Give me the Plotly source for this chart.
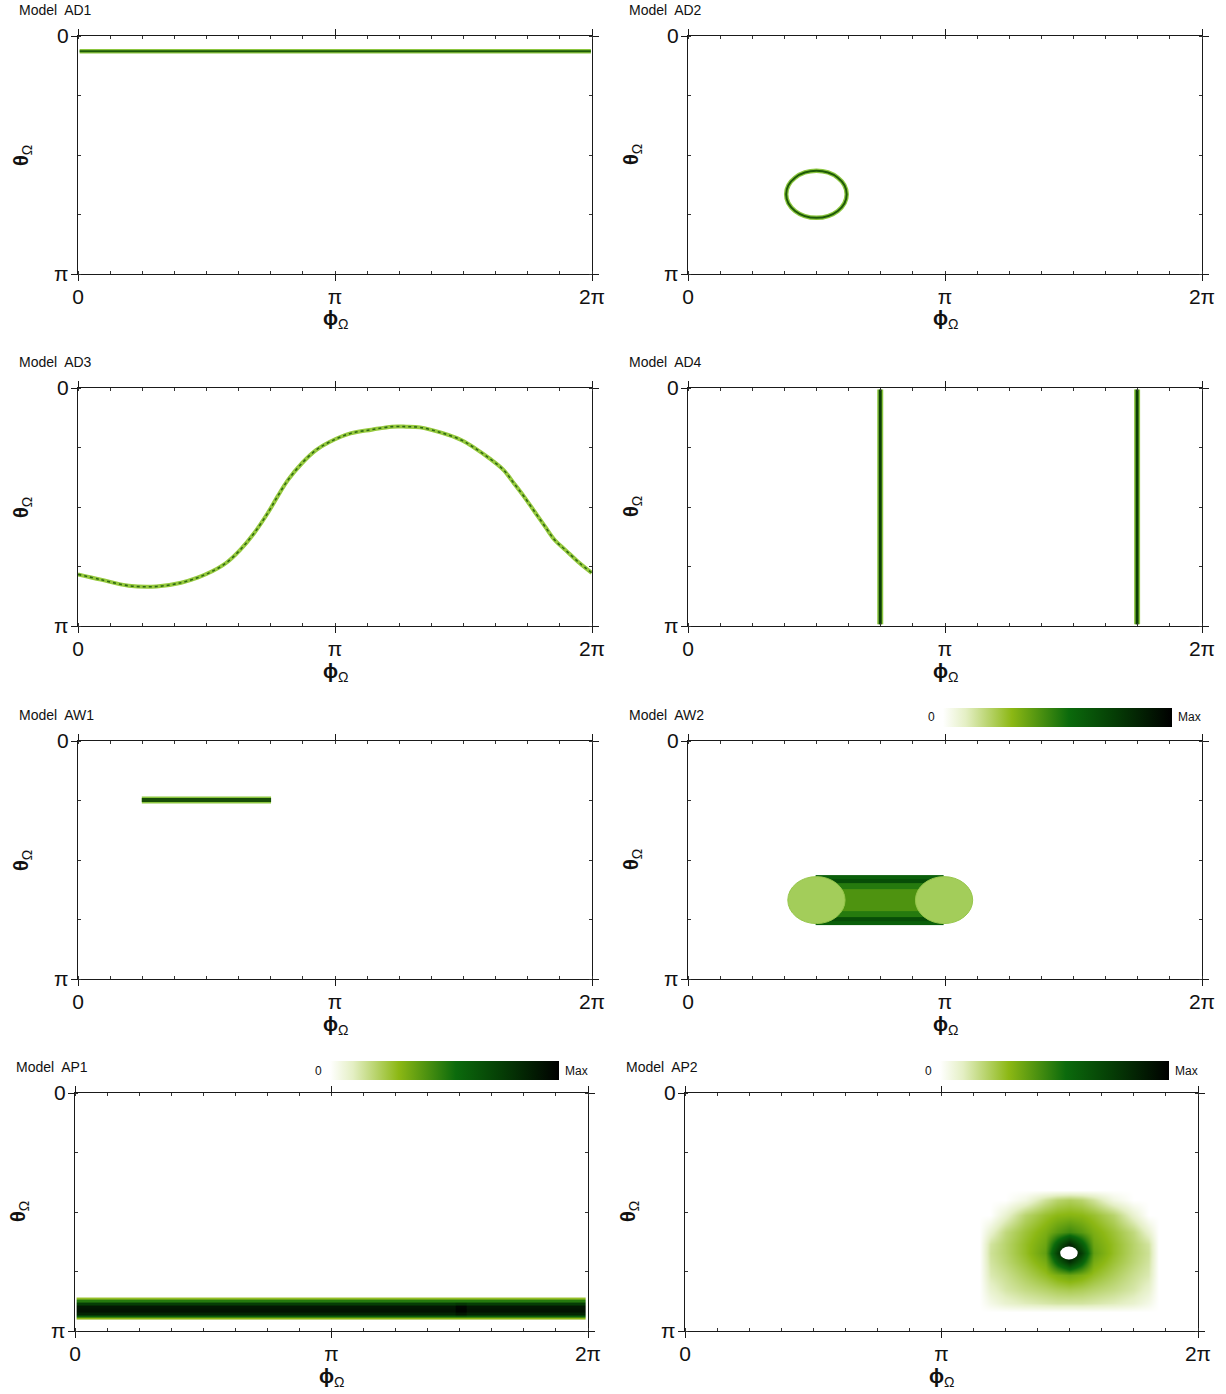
import numpy as np
import plotly.graph_objects as go

PI = np.pi
W, H = 1226, 1394

# ---------------- data ----------------
titles = ["Model  AD1", "Model  AD2", "Model  AD3", "Model  AD4",
          "Model  AW1", "Model  AW2", "Model  AP1", "Model  AP2"]
x_tickvals = [0, PI, 2 * PI]
x_ticktext = ["0", "π", "2π"]
y_tickvals = [0, PI]
y_ticktext = ["0", "π"]

# AD1: horizontal line
ad1_phi = [0.02, 6.27]
ad1_theta = [0.20, 0.20]

# AD2: ring (bounding box)
ad2_phi = [1.20, 1.94]
ad2_theta = [1.78, 2.40]

# AD3: curve
ad3_phi = [0.0, 0.28, 0.62, 0.96, 1.26, 1.47, 1.64, 1.81, 1.98, 2.15, 2.32, 2.44,
           2.57, 2.74, 2.91, 3.08, 3.33, 3.59, 3.84, 4.01, 4.18, 4.44, 4.69, 4.86,
           5.03, 5.20, 5.33, 5.45, 5.58, 5.71, 5.83, 5.96, 6.13, 6.28]
ad3_theta = [2.46, 2.53, 2.61, 2.62, 2.57, 2.50, 2.42, 2.31, 2.14, 1.92, 1.65, 1.43,
             1.21, 0.99, 0.82, 0.71, 0.60, 0.55, 0.51, 0.51, 0.52, 0.59, 0.69, 0.80,
             0.93, 1.08, 1.26, 1.43, 1.63, 1.83, 2.01, 2.14, 2.31, 2.44]

# AD4: vertical lines
ad4_phi = [2.35, 5.49]
ad4_theta = [0.02, 3.12]

# AW1: short horizontal segment
aw1_phi = [0.78, 2.36]
aw1_theta = [0.78, 0.78]

# AW2: capsule body (profile across theta) and end caps
aw2_body_phi = [1.56, 3.13]
aw2_body_theta = [1.77, 1.82, 1.87, 1.95, 2.25, 2.33, 2.38, 2.43]
aw2_body_z = [0.60, 0.68, 0.50, 0.42, 0.50, 0.68, 0.60]
aw2_capL_phi = [1.22, 1.92]
aw2_capR_phi = [2.78, 3.48]
aw2_cap_theta = [1.79, 2.41]

# AP1: band profile
ap1_phi = [0.02, 4.66, 4.80, 6.26]
ap1_theta = [2.70, 2.73, 2.76, 2.80, 2.85, 2.90, 2.94, 2.96, 2.99]
ap1_z = [[0.28, 0.28, 0.28],
         [0.50, 0.50, 0.50],
         [0.75, 0.78, 0.75],
         [0.90, 0.97, 0.90],
         [0.92, 0.98, 0.92],
         [0.85, 0.90, 0.85],
         [0.60, 0.62, 0.60],
         [0.30, 0.30, 0.30]]

# AP2: blob intensity grid
ap2_phi = [3.60, 3.736, 3.919, 4.164, 4.409, 4.556, 4.703, 4.850, 4.997, 5.242, 5.487,
           5.671, 5.80]
ap2_theta = [1.280, 1.412, 1.610, 1.835, 1.993, 2.112, 2.231, 2.402, 2.600, 2.772, 2.891]
ap2_z = [
    [0, 0, 0, 0, 0, 0, 0, 0, 0, 0, 0, 0, 0],
    [0, 0, 0, 0.05, 0.15, 0.20, 0.22, 0.20, 0.15, 0.05, 0, 0, 0],
    [0, 0, 0.08, 0.20, 0.27, 0.30, 0.31, 0.30, 0.27, 0.20, 0.08, 0, 0],
    [0, 0.08, 0.18, 0.26, 0.33, 0.40, 0.45, 0.40, 0.33, 0.26, 0.18, 0.08, 0],
    [0, 0.14, 0.20, 0.28, 0.36, 0.62, 0.85, 0.62, 0.36, 0.28, 0.20, 0.14, 0],
    [0, 0.15, 0.20, 0.28, 0.38, 0.75, 0.98, 0.75, 0.38, 0.28, 0.20, 0.15, 0],
    [0, 0.14, 0.19, 0.26, 0.34, 0.60, 0.80, 0.60, 0.34, 0.26, 0.19, 0.14, 0],
    [0, 0.12, 0.16, 0.22, 0.28, 0.33, 0.36, 0.33, 0.28, 0.22, 0.16, 0.12, 0],
    [0, 0.08, 0.13, 0.17, 0.20, 0.22, 0.23, 0.22, 0.20, 0.17, 0.13, 0.08, 0],
    [0, 0.04, 0.08, 0.11, 0.13, 0.14, 0.14, 0.14, 0.13, 0.11, 0.08, 0.04, 0],
    [0, 0, 0, 0, 0, 0, 0, 0, 0, 0, 0, 0, 0],
]
ap2_hole_phi = [4.595, 4.810]
ap2_hole_theta = [2.026, 2.198]

# ---------------- style ----------------
LIGHT = "#8cc63f"
DARK = "#1d5a07"
CSCALE = [[0.0, "#ffffff"], [0.1, "#e4efc4"], [0.3, "#8cb814"],
          [0.55, "#0b6a0c"], [0.75, "#053d05"], [1.0, "#000000"]]
FONT = "Liberation Sans, Arial, sans-serif"

# panel pixel boxes: (left, top, right, bottom)
boxes = [
    (78, 36, 592, 274), (688, 36, 1202, 274),
    (78, 388, 592, 626), (688, 388, 1202, 626),
    (78, 741, 592, 979), (688, 741, 1202, 979),
    (75, 1093, 588, 1331), (685, 1093, 1198, 1331),
]

fig = go.Figure()

def ax_names(i):
    return ("x" if i == 0 else f"x{i+1}", "y" if i == 0 else f"y{i+1}")

def line(i, xs, ys, color, width, dash="solid", shape="linear"):
    xa, ya = ax_names(i)
    fig.add_trace(go.Scatter(x=xs, y=ys, mode="lines", xaxis=xa, yaxis=ya,
                             line=dict(color=color, width=width, dash=dash, shape=shape),
                             hoverinfo="skip", showlegend=False))

# AD1
line(0, ad1_phi, ad1_theta, LIGHT, 4.5)
line(0, ad1_phi, ad1_theta, DARK, 2)
# AD3
line(2, ad3_phi, ad3_theta, "#96c93e", 4, shape="spline")
line(2, ad3_phi, ad3_theta, "#2f6a12", 1.6, "dot", shape="spline")
# AD4
for p in ad4_phi:
    line(3, [p, p], ad4_theta, LIGHT, 6)
    line(3, [p, p], ad4_theta, "#0b3d05", 3)
# AW1
line(4, aw1_phi, aw1_theta, LIGHT, 7)
line(4, aw1_phi, aw1_theta, "#174d06", 4)

# AW2 body heatmap
fig.add_trace(go.Heatmap(x=aw2_body_phi, y=aw2_body_theta,
                         z=[[v] for v in aw2_body_z], coloraxis="coloraxis",
                         xaxis="x6", yaxis="y6", hoverinfo="skip"))
# AP1 band heatmap
fig.add_trace(go.Heatmap(x=ap1_phi, y=ap1_theta, z=ap1_z, coloraxis="coloraxis2",
                         xaxis="x7", yaxis="y7", hoverinfo="skip"))
# AP2 blob heatmap
fig.add_trace(go.Heatmap(x=ap2_phi, y=ap2_theta, z=ap2_z, coloraxis="coloraxis3",
                         zsmooth="best", xaxis="x8", yaxis="y8", hoverinfo="skip"))

shapes = []
# AD2 ring
shapes.append(dict(type="circle", xref="x2", yref="y2", x0=ad2_phi[0], x1=ad2_phi[1],
                   y0=ad2_theta[0], y1=ad2_theta[1], line=dict(color=LIGHT, width=4.5)))
shapes.append(dict(type="circle", xref="x2", yref="y2", x0=ad2_phi[0], x1=ad2_phi[1],
                   y0=ad2_theta[0], y1=ad2_theta[1], line=dict(color=DARK, width=2)))
# AW2 caps
for cp in (aw2_capL_phi, aw2_capR_phi):
    shapes.append(dict(type="circle", xref="x6", yref="y6", x0=cp[0], x1=cp[1],
                       y0=aw2_cap_theta[0], y1=aw2_cap_theta[1], layer="above",
                       fillcolor="#a3cd5a", line=dict(color="#96c64a", width=1)))
# AP2 hole
shapes.append(dict(type="circle", xref="x8", yref="y8", x0=ap2_hole_phi[0], x1=ap2_hole_phi[1],
                   y0=ap2_hole_theta[0], y1=ap2_hole_theta[1], layer="above",
                   fillcolor="#ffffff", line=dict(color="#ffffff", width=0)))

layout = dict(width=W, height=H, margin=dict(l=0, r=0, t=0, b=0),
              paper_bgcolor="white", plot_bgcolor="white", template="none",
              showlegend=False, shapes=shapes, font=dict(family=FONT, color="#111"))

annotations = []
for i, (l, t, r, b) in enumerate(boxes):
    xa, ya = ax_names(i)
    xk = "xaxis" if i == 0 else f"xaxis{i+1}"
    yk = "yaxis" if i == 0 else f"yaxis{i+1}"
    common = dict(showline=True, linecolor="#1a1a1a", linewidth=1.4, mirror="allticks",
                  ticks="outside", ticklen=6, tickwidth=1.2, tickcolor="#1a1a1a",
                  showgrid=False, zeroline=False, automargin=False, tickmode="array",
                  tickfont=dict(size=21, family=FONT, color="#111"))
    layout[xk] = dict(common, domain=[l / W, r / W], anchor=ya, range=[0, 2 * PI],
                      tickvals=x_tickvals, ticktext=x_ticktext, ticklabelstandoff=-2,
                      minor=dict(dtick=PI / 8, tick0=0, ticks="inside", ticklen=3,
                                 tickcolor="#333", showgrid=False))
    layout[yk] = dict(common, domain=[1 - b / H, 1 - t / H], anchor=xa, range=[PI, 0],
                      tickvals=y_tickvals, ticktext=y_ticktext, ticklabelstandoff=-2,
                      minor=dict(dtick=PI / 4, tick0=0, ticks="inside", ticklen=3,
                                 tickcolor="#333", showgrid=False))
    # title
    annotations.append(dict(text=titles[i], x=(l - 61) / W, y=1 - (t - 26) / H,
                            xref="paper", yref="paper", xanchor="left", yanchor="middle",
                            showarrow=False, font=dict(size=14, family=FONT, color="#111")))
    # axis titles
    annotations.append(dict(text="<b>ϕ</b><sub>Ω</sub>", x=(l + r) / 2 / W, y=1 - (b + 46) / H,
                            xref="paper", yref="paper", xanchor="center", yanchor="middle",
                            showarrow=False, font=dict(size=20, family=FONT, color="#111")))
    annotations.append(dict(text="<b>θ</b><sub>Ω</sub>", x=(l - 56) / W, y=1 - ((t + b) / 2) / H,
                            xref="paper", yref="paper", xanchor="center", yanchor="middle",
                            textangle=-90, showarrow=False,
                            font=dict(size=20, family=FONT, color="#111")))

# colour bars (AW2, AP1, AP2)
cbars = [("coloraxis", 943, 708), ("coloraxis2", 330, 1061), ("coloraxis3", 940, 1061)]
for key, cx, cy in cbars:
    layout[key] = dict(cmin=0, cmax=1, colorscale=CSCALE,
                       colorbar=dict(orientation="h", x=cx / W, y=1 - cy / H,
                                     xanchor="left", yanchor="top", lenmode="pixels", len=229,
                                     thickness=19, xpad=0, ypad=0, outlinewidth=0,
                                     showticklabels=False, ticks=""))
    annotations.append(dict(text="0", x=(cx - 6) / W, y=1 - (cy + 9.5) / H, xref="paper",
                            yref="paper", xanchor="right", yanchor="middle", showarrow=False,
                            font=dict(size=12, family=FONT, color="#111")))
    annotations.append(dict(text="Max", x=(cx + 233) / W, y=1 - (cy + 9.5) / H, xref="paper",
                            yref="paper", xanchor="left", yanchor="middle", showarrow=False,
                            font=dict(size=12, family=FONT, color="#111")))

layout["annotations"] = annotations
fig.update_layout(**layout)
fig.write_html("out.html", config={"displayModeBar": False},
               post_script="document.body.style.margin='0';"
                           "document.documentElement.style.overflow='hidden';"
                           "document.body.style.overflow='hidden';")
